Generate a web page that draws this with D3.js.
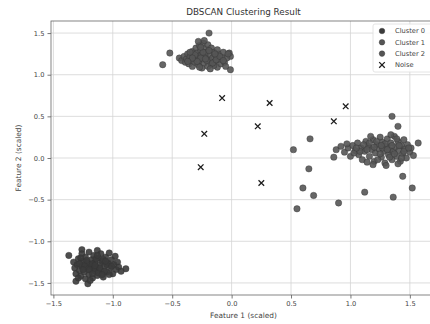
<!DOCTYPE html>
<html>
<head>
<meta charset="utf-8">
<script src="https://cdn.jsdelivr.net/npm/d3@7"></script>
<style>
  body { margin: 0; background: #fff; }
  svg { display: block; font-family: "DejaVu Sans", sans-serif; }
</style>
</head>
<body>
<div class="chart"></div>
<script>
// values (scaled features)
var cluster0 = [
  [-1.37, -1.17], [-1.31, -1.48], [-1.21, -1.51], [-0.89, -1.33], [-1.26, -1.10],
  [-1.33, -1.25], [-1.32, -1.32], [-1.31, -1.39], [-1.30, -1.28], [-1.29, -1.21],
  [-1.28, -1.35], [-1.27, -1.42], [-1.26, -1.15], [-1.26, -1.30], [-1.25, -1.24],
  [-1.24, -1.37], [-1.23, -1.19], [-1.23, -1.45], [-1.22, -1.31], [-1.21, -1.26],
  [-1.20, -1.40], [-1.20, -1.13], [-1.19, -1.34], [-1.18, -1.22], [-1.18, -1.29],
  [-1.17, -1.44], [-1.16, -1.17], [-1.15, -1.36], [-1.15, -1.25], [-1.14, -1.31],
  [-1.13, -1.11], [-1.13, -1.41], [-1.12, -1.20], [-1.11, -1.28], [-1.10, -1.35],
  [-1.10, -1.15], [-1.09, -1.24], [-1.08, -1.43], [-1.07, -1.30], [-1.06, -1.19],
  [-1.05, -1.37], [-1.04, -1.26], [-1.03, -1.14], [-1.02, -1.32], [-1.01, -1.22],
  [-1.00, -1.39], [-0.99, -1.28], [-0.98, -1.18], [-0.97, -1.34], [-0.96, -1.25],
  [-0.95, -1.31], [-1.24, -1.28], [-1.16, -1.33], [-1.12, -1.38], [-1.27, -1.20],
  [-1.19, -1.47], [-1.08, -1.22], [-1.03, -1.40], [-0.93, -1.36], [-1.29, -1.44],
  [-1.22, -1.23], [-1.17, -1.27], [-1.14, -1.21], [-1.11, -1.32], [-1.07, -1.36],
  [-1.05, -1.28], [-1.20, -1.34], [-1.25, -1.34], [-1.13, -1.17], [-1.09, -1.40],
  [-1.01, -1.30], [-1.17, -1.39], [-1.28, -1.27], [-1.06, -1.24], [-1.15, -1.29]
];
var cluster1 = [
  [-0.58, 1.12], [-0.52, 1.26], [-0.19, 1.50], [-0.01, 1.06], [-0.02, 1.26], [-0.01, 1.22],
  [-0.44, 1.20], [-0.42, 1.17], [-0.40, 1.22], [-0.39, 1.15], [-0.38, 1.19], [-0.37, 1.25],
  [-0.36, 1.13], [-0.35, 1.21], [-0.34, 1.17], [-0.33, 1.28], [-0.33, 1.10], [-0.32, 1.23],
  [-0.31, 1.15], [-0.30, 1.32], [-0.30, 1.19], [-0.29, 1.26], [-0.28, 1.12], [-0.28, 1.22],
  [-0.27, 1.35], [-0.27, 1.17], [-0.26, 1.29], [-0.25, 1.08], [-0.25, 1.24], [-0.24, 1.38],
  [-0.24, 1.19], [-0.23, 1.14], [-0.22, 1.31], [-0.22, 1.22], [-0.21, 1.27], [-0.20, 1.10],
  [-0.20, 1.36], [-0.19, 1.18], [-0.18, 1.24], [-0.17, 1.32], [-0.17, 1.13], [-0.16, 1.20],
  [-0.15, 1.27], [-0.14, 1.16], [-0.13, 1.22], [-0.12, 1.09], [-0.11, 1.25], [-0.10, 1.18],
  [-0.09, 1.13], [-0.08, 1.21], [-0.07, 1.27], [-0.06, 1.15], [-0.05, 1.10], [-0.04, 1.20],
  [-0.03, 1.25], [-0.26, 1.20], [-0.31, 1.24], [-0.21, 1.17], [-0.15, 1.11], [-0.35, 1.27],
  [-0.12, 1.30], [-0.28, 1.40], [-0.23, 1.41], [-0.29, 1.16], [-0.24, 1.27], [-0.19, 1.29],
  [-0.16, 1.14], [-0.13, 1.18], [-0.10, 1.22], [-0.33, 1.20], [-0.27, 1.09], [-0.18, 1.07],
  [-0.22, 1.19], [-0.07, 1.17], [-0.37, 1.16], [-0.14, 1.25], [-0.26, 1.33]
];
var cluster2 = [
  [1.35, 0.50], [1.40, 0.38], [1.57, 0.18], [0.66, 0.23], [0.52, 0.10], [0.86, 0.01],
  [0.65, -0.13], [1.44, -0.22], [0.60, -0.36], [0.69, -0.45], [1.12, -0.41], [1.52, -0.36],
  [1.36, -0.47], [0.90, -0.54], [0.55, -0.61],
  [0.88, 0.10], [0.92, 0.14], [0.95, 0.07], [0.98, 0.12], [1.00, 0.02], [1.02, 0.15],
  [1.04, 0.09], [1.06, 0.18], [1.07, 0.04], [1.09, 0.12], [1.10, -0.02], [1.12, 0.08],
  [1.13, 0.20], [1.15, 0.14], [1.16, 0.02], [1.18, 0.10], [1.19, 0.22], [1.20, -0.04],
  [1.21, 0.06], [1.22, 0.16], [1.24, 0.11], [1.25, 0.25], [1.26, 0.01], [1.27, 0.19],
  [1.28, 0.08], [1.29, -0.06], [1.30, 0.14], [1.31, 0.23], [1.32, 0.04], [1.33, 0.10],
  [1.34, 0.18], [1.35, -0.02], [1.36, 0.08], [1.37, 0.26], [1.38, 0.13], [1.39, 0.02],
  [1.40, 0.20], [1.41, 0.09], [1.42, -0.04], [1.43, 0.15], [1.44, 0.05], [1.45, 0.22],
  [1.46, 0.11], [1.47, 0.00], [1.48, 0.16], [1.50, 0.07], [1.51, 0.12], [1.53, 0.03],
  [1.23, -0.02], [1.17, 0.26], [1.11, 0.16], [1.03, 0.06], [1.27, 0.12], [1.34, 0.28],
  [1.30, -0.09], [1.19, -0.08], [1.40, -0.07], [1.14, -0.05], [0.97, 0.17],
  [1.08, 0.08], [1.14, 0.10], [1.20, 0.13], [1.25, 0.05], [1.29, 0.17], [1.33, 0.01],
  [1.37, 0.05], [1.41, 0.15], [1.45, 0.08], [1.49, 0.12], [1.22, 0.20], [1.31, 0.10],
  [1.16, 0.18], [1.26, 0.15], [1.39, 0.23], [1.05, 0.12], [1.43, 0.00], [1.35, 0.15]
];
var noise = [
  [-0.08, 0.72], [0.32, 0.66], [0.96, 0.62], [0.86, 0.44],
  [0.22, 0.38], [-0.23, 0.29], [-0.26, -0.11], [0.25, -0.30]
];
var ticks = [-1.5, -1.0, -0.5, 0.0, 0.5, 1.0, 1.5];
var legendLabels = ['Cluster 0', 'Cluster 1', 'Cluster 2', 'Noise'];
var clusterColors = ['#3b3b3b', '#555555', '#555555'];

var width = 430, height = 324;
var plot = { left: 51, top: 21, right: 436, bottom: 295 };

var svg = d3.select('.chart')
  .append('svg')
  .attr('width', width)
  .attr('height', height);

var x = d3.scaleLinear().domain([-1.52, 1.72]).range([plot.left, plot.right]);
var y = d3.scaleLinear().domain([-1.645, 1.645]).range([plot.bottom, plot.top]);

var fmt = d => d3.format('.1f')(d).replace('-', '\u2212');

// grid
svg.append('g').selectAll('line').data(ticks).enter().append('line')
  .attr('x1', d => x(d)).attr('x2', d => x(d))
  .attr('y1', plot.top).attr('y2', plot.bottom)
  .attr('stroke', '#d4d4d4').attr('stroke-width', 0.8);
svg.append('g').selectAll('line').data(ticks).enter().append('line')
  .attr('x1', plot.left).attr('x2', plot.right)
  .attr('y1', d => y(d)).attr('y2', d => y(d))
  .attr('stroke', '#d4d4d4').attr('stroke-width', 0.8);

svg.append('clipPath').attr('id', 'clip').append('rect')
  .attr('x', plot.left).attr('y', plot.top)
  .attr('width', plot.right - plot.left).attr('height', plot.bottom - plot.top);

var pts = svg.append('g').attr('clip-path', 'url(#clip)');

[cluster0, cluster1, cluster2].forEach((c, i) => {
  pts.append('g').selectAll('circle').data(c).enter().append('circle')
    .attr('cx', d => x(d[0]))
    .attr('cy', d => y(d[1]))
    .attr('r', 3.2)
    .attr('fill', clusterColors[i])
    .attr('fill-opacity', 0.9)
    .attr('stroke', '#333')
    .attr('stroke-width', 0.4);
});

var xMark = (cx, cy, s) => `M${cx - s},${cy - s}L${cx + s},${cy + s}M${cx - s},${cy + s}L${cx + s},${cy - s}`;

pts.append('g').selectAll('path').data(noise).enter().append('path')
  .attr('d', d => xMark(x(d[0]), y(d[1]), 2.8))
  .attr('stroke', '#1e1e1e')
  .attr('stroke-width', 1.3)
  .attr('fill', 'none');

// axes
var xAxis = svg.append('g')
  .attr('transform', `translate(0,${plot.bottom})`)
  .call(d3.axisBottom(x).tickValues(ticks).tickFormat(fmt).tickSize(3.5).tickPadding(3));
var yAxis = svg.append('g')
  .attr('transform', `translate(${plot.left},0)`)
  .call(d3.axisLeft(y).tickValues(ticks).tickFormat(fmt).tickSize(3.5).tickPadding(3));

[xAxis, yAxis].forEach(g => {
  g.select('.domain').remove();
  g.selectAll('line').attr('stroke', '#555').attr('stroke-width', 0.8);
  g.selectAll('text').attr('fill', '#444').attr('font-size', 6.7).attr('font-family', 'DejaVu Sans');
});

// spines
svg.append('rect')
  .attr('x', plot.left).attr('y', plot.top)
  .attr('width', plot.right - plot.left).attr('height', plot.bottom - plot.top)
  .attr('fill', 'none').attr('stroke', '#666').attr('stroke-width', 0.8);

// title and labels
svg.append('text')
  .attr('x', (plot.left + plot.right) / 2).attr('y', 15)
  .attr('text-anchor', 'middle').attr('font-size', 8.8).attr('fill', '#333')
  .text('DBSCAN Clustering Result');
svg.append('text')
  .attr('x', (plot.left + plot.right) / 2).attr('y', 318)
  .attr('text-anchor', 'middle').attr('font-size', 7.4).attr('fill', '#444')
  .text('Feature 1 (scaled)');
svg.append('text')
  .attr('transform', `translate(21,${(plot.top + plot.bottom) / 2}) rotate(-90)`)
  .attr('text-anchor', 'middle').attr('font-size', 7.4).attr('fill', '#444')
  .text('Feature 2 (scaled)');

// legend
var legend = svg.append('g');
legend.append('rect')
  .attr('x', 373).attr('y', 24).attr('width', 60).attr('height', 48).attr('rx', 2)
  .attr('fill', '#fff').attr('fill-opacity', 0.85)
  .attr('stroke', '#ddd').attr('stroke-width', 0.8);
var items = legend.selectAll('g.item').data(legendLabels).enter().append('g')
  .attr('class', 'item')
  .attr('transform', (d, i) => `translate(382,${31 + i * 11.3})`);
items.filter((d, i) => i < 3).append('circle')
  .attr('r', 2.8)
  .attr('fill', (d, i) => clusterColors[i])
  .attr('stroke', '#333').attr('stroke-width', 0.4);
items.filter((d, i) => i === 3).append('path')
  .attr('d', xMark(0, 0, 2.8))
  .attr('stroke', '#1e1e1e').attr('stroke-width', 1.3);
items.append('text')
  .attr('x', 13).attr('dy', '0.35em')
  .attr('font-size', 6.7).attr('fill', '#444')
  .text(d => d);
</script>
</body>
</html>
